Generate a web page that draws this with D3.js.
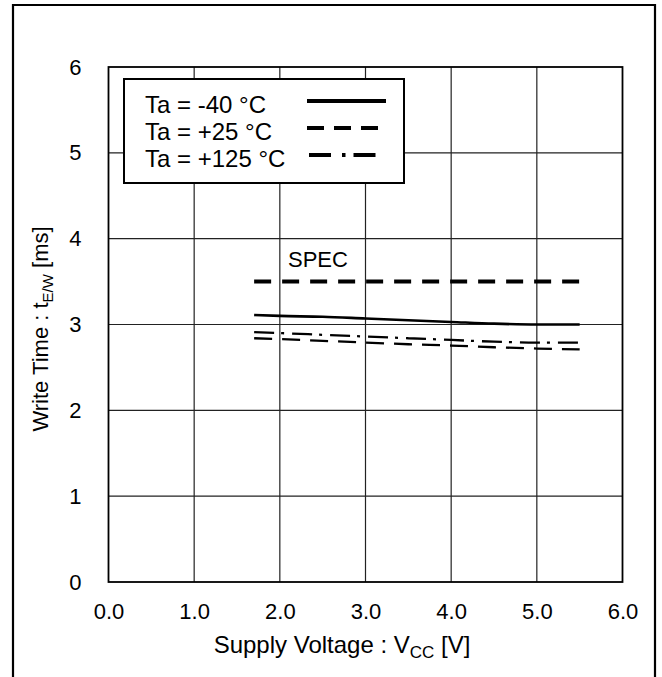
<!DOCTYPE html>
<html>
<head>
<meta charset="utf-8">
<script src="https://cdn.jsdelivr.net/npm/d3@7"></script>
<style>
  html, body { margin: 0; padding: 0; background: #fff; }
  svg { display: block; font-family: Arial, "Liberation Sans", sans-serif; }
</style>
</head>
<body>
<svg id="chart" width="662" height="677"></svg>
<script>
// ---- Data ----
const xTicks = [0, 1, 2, 3, 4, 5, 6];
const yTicks = [0, 1, 2, 3, 4, 5, 6];
const vcc = [1.7, 2.0, 2.5, 3.0, 3.5, 4.0, 4.5, 5.0, 5.5];
const tMinus40 = [3.11, 3.10, 3.09, 3.07, 3.05, 3.03, 3.01, 3.00, 3.00];
const tPlus25  = [2.84, 2.83, 2.81, 2.79, 2.77, 2.755, 2.735, 2.72, 2.71];
const tPlus125 = [2.91, 2.90, 2.88, 2.86, 2.84, 2.82, 2.80, 2.79, 2.79];
const specX = [1.7, 5.5];
const specY = [3.5, 3.5];
const seriesNames = ["Ta = -40 °C", "Ta = +25 °C", "Ta = +125 °C"];

// ---- Layout ----
const svg = d3.select("#chart");
const x = d3.scaleLinear().domain([0, 6]).range([108.5, 622.5]);
const y = d3.scaleLinear().domain([0, 6]).range([582, 67]);

// outer frame (open at bottom)
svg.append("path")
  .attr("d", "M13,680 L13,5 L655,5 L655,680")
  .attr("fill", "none").attr("stroke", "#000").attr("stroke-width", 2.2);

// grid
const g = svg.append("g");
g.selectAll(".vg").data(xTicks.slice(1, -1)).enter().append("line")
  .attr("x1", d => x(d)).attr("x2", d => x(d))
  .attr("y1", y(0)).attr("y2", y(6))
  .attr("stroke", "#222").attr("stroke-width", 1.2);
g.selectAll(".hg").data(yTicks.slice(1, -1)).enter().append("line")
  .attr("x1", x(0)).attr("x2", x(6))
  .attr("y1", d => y(d)).attr("y2", d => y(d))
  .attr("stroke", "#222").attr("stroke-width", 1.2);

// axes (labels only, via d3 axis)
const xAxis = svg.append("g").attr("transform", `translate(0,${y(0)})`)
  .call(d3.axisBottom(x).tickValues(xTicks).tickFormat(d3.format(".1f")).tickSize(0).tickPadding(21));
const yAxis = svg.append("g").attr("transform", `translate(${x(0)},0)`)
  .call(d3.axisLeft(y).tickValues(yTicks).tickFormat(d3.format("d")).tickSize(0).tickPadding(27));
[xAxis, yAxis].forEach(a => {
  a.select(".domain").remove();
  a.selectAll("text").attr("font-size", 22).attr("fill", "#000")
    .attr("font-family", "Arial, 'Liberation Sans', sans-serif");
});

// plot frame
svg.append("rect")
  .attr("x", x(0)).attr("y", y(6))
  .attr("width", x(6) - x(0)).attr("height", y(0) - y(6))
  .attr("fill", "none").attr("stroke", "#000").attr("stroke-width", 1.8);

// axis titles
const xt = svg.append("text").attr("x", 342).attr("y", 653)
  .attr("text-anchor", "middle").attr("font-size", 24).attr("fill", "#000");
xt.append("tspan").text("Supply Voltage : V");
xt.append("tspan").attr("font-size", 17).attr("dy", 5).text("CC");
xt.append("tspan").attr("dy", -5).text(" [V]");

const yt = svg.append("text").attr("transform", "translate(48,329) rotate(-90)")
  .attr("text-anchor", "middle").attr("font-size", 22).attr("fill", "#000");
yt.append("tspan").text("Write Time : t");
yt.append("tspan").attr("font-size", 15).attr("dy", 5).text("E/W");
yt.append("tspan").attr("dy", -5).text(" [ms]");

// data lines
const line = d3.line().x(d => x(d[0])).y(d => y(d[1])).curve(d3.curveMonotoneX);
const styles = [
  { vals: tMinus40, dash: null, w: 2.6 },
  { vals: tPlus25, dash: "18,10", w: 2.3 },
  { vals: tPlus125, dash: "20,7,3,8", w: 2.3 }
];
styles.forEach(s => {
  svg.append("path")
    .datum(vcc.map((v, i) => [v, s.vals[i]]))
    .attr("d", line)
    .attr("fill", "none").attr("stroke", "#000")
    .attr("stroke-width", s.w)
    .attr("stroke-dasharray", s.dash);
});

// SPEC line
svg.append("path")
  .datum(specX.map((v, i) => [v, specY[i]]))
  .attr("d", d3.line().x(d => x(d[0])).y(d => y(d[1])))
  .attr("fill", "none").attr("stroke", "#000").attr("stroke-width", 4)
  .attr("stroke-dasharray", "17,11");
svg.append("text").attr("x", 288).attr("y", 267)
  .attr("font-size", 22).attr("fill", "#000").text("SPEC");

// legend
const lg = svg.append("g");
lg.append("rect").attr("x", 124).attr("y", 79).attr("width", 280).attr("height", 104)
  .attr("fill", "#fff").attr("stroke", "#000").attr("stroke-width", 2);
const legDash = [null, "17,10", "22,11,3.5,8"];
seriesNames.forEach((name, i) => {
  const by = 113 + i * 27;
  lg.append("text").attr("x", 145).attr("y", by)
    .attr("font-size", 24).attr("fill", "#000").text(name);
  lg.append("line")
    .attr("x1", i === 2 ? 309 : 307).attr("x2", 386)
    .attr("y1", by - 12).attr("y2", by - 12)
    .attr("stroke", "#000").attr("stroke-width", 4)
    .attr("stroke-dasharray", legDash[i]);
});
</script>
</body>
</html>
